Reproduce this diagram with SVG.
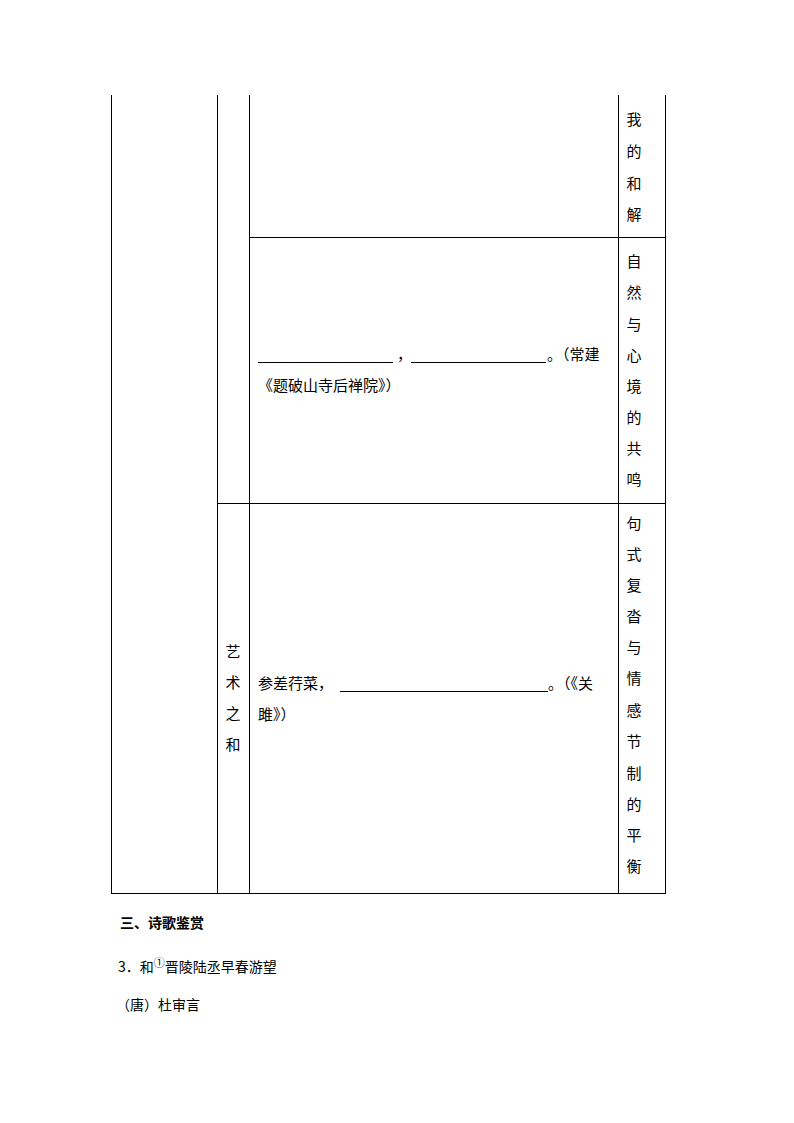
<svg xmlns="http://www.w3.org/2000/svg" width="794" height="1123" viewBox="0 0 794 1123">
<style>
.l{stroke:#000;stroke-width:1;fill:none}
.t{font-family:"Noto Sans CJK SC","Liberation Sans",sans-serif;font-size:15px;fill:#000}
.v{font-family:"Noto Sans CJK SC",sans-serif;font-size:15px;fill:#000;text-anchor:middle}
.s{font-family:"Noto Sans CJK SC","Liberation Serif",serif;font-size:14px;fill:#000}
</style>
<rect width="794" height="1123" fill="#fff"/>
<g id="table">
<path class="l" d="M111.5 95V893.5M217.5 95V893.5M249.5 95V893.5M618.5 95V893.5M665.5 95V893.5M249 237.5H666M217 503.5H666M111 893.5H666"/>
</g>
<g id="row1">
<text class="v" x="634"><tspan x="634" y="125">我</tspan><tspan x="634" y="157">的</tspan><tspan x="634" y="189">和</tspan><tspan x="634" y="220">解</tspan></text>
</g>
<g id="row2">
<path class="l" d="M258 362.5H393M411 362.5H546"/>
<text class="t" x="397" y="360">，</text>
<text class="t" x="547" y="360">。（常建</text>
<text class="t" x="258" y="391">《题破山寺后禅院》）</text>
<text class="v"><tspan x="634" y="267">自</tspan><tspan x="634" y="298">然</tspan><tspan x="634" y="330">与</tspan><tspan x="634" y="361">心</tspan><tspan x="634" y="392">境</tspan><tspan x="634" y="423">的</tspan><tspan x="634" y="454">共</tspan><tspan x="634" y="485">鸣</tspan></text>
</g>
<g id="row3">
<text class="v"><tspan x="233" y="657">艺</tspan><tspan x="233" y="688">术</tspan><tspan x="233" y="719">之</tspan><tspan x="233" y="750">和</tspan></text>
<text class="t" x="258" y="689">参差荇菜，</text>
<path class="l" d="M340 691.5H548"/>
<text class="t" x="548" y="689">。（《关</text>
<text class="t" x="258" y="720">雎》）</text>
<text class="v"><tspan x="634" y="529">句</tspan><tspan x="634" y="560">式</tspan><tspan x="634" y="591">复</tspan><tspan x="634" y="622">沓</tspan><tspan x="634" y="653">与</tspan><tspan x="634" y="684">情</tspan><tspan x="634" y="716">感</tspan><tspan x="634" y="747">节</tspan><tspan x="634" y="779">制</tspan><tspan x="634" y="810">的</tspan><tspan x="634" y="841">平</tspan><tspan x="634" y="872">衡</tspan></text>
</g>
<g id="below">
<text class="s" x="120" y="928" font-weight="bold">三、诗歌鉴赏</text>
<text class="s" x="118" y="972">3．和<tspan font-size="11" dy="-5">①</tspan><tspan dy="5">晋陵陆丞早春游望</tspan></text>
<text class="s" x="116" y="1010">（唐）杜审言</text>
</g>
</svg>
